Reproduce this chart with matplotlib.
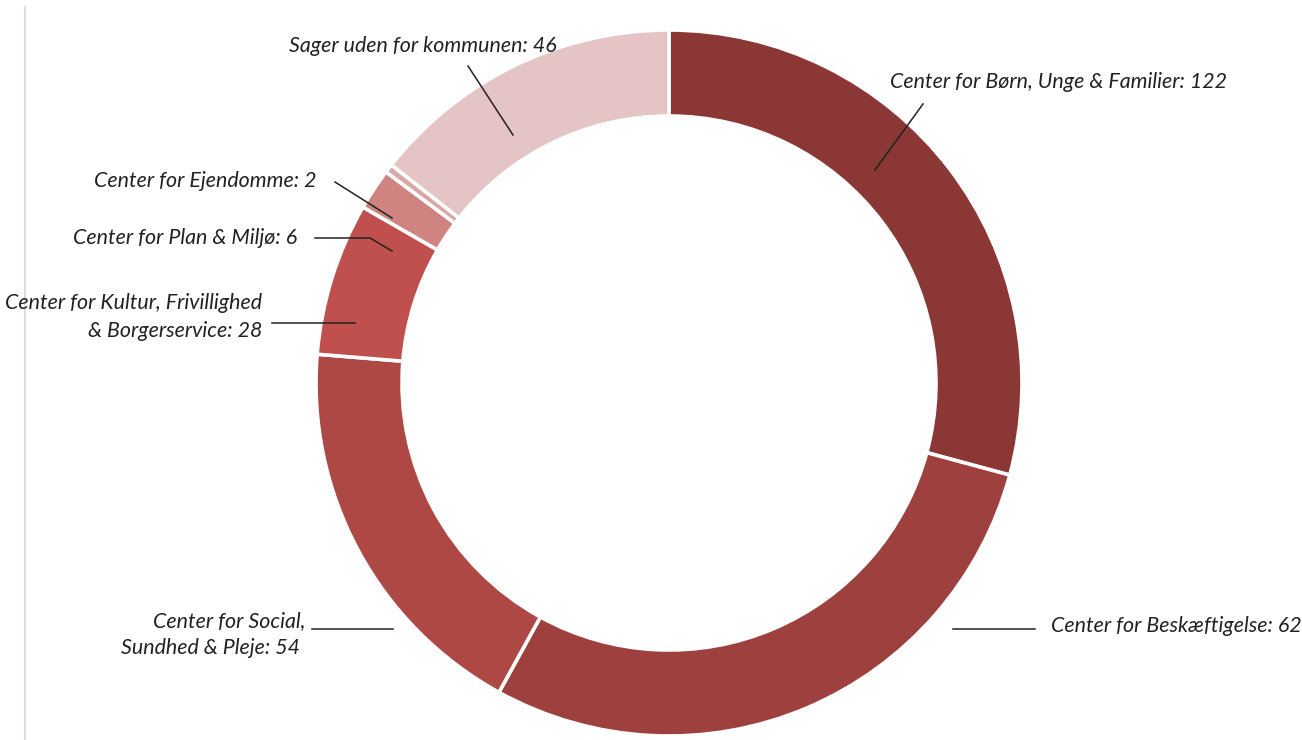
import matplotlib
matplotlib.use("Agg")
import matplotlib.pyplot as plt

# Data
categories = [
    "Center for Børn, Unge & Familier",
    "Center for Beskæftigelse",
    "Center for Social, Sundhed & Pleje",
    "Center for Kultur, Frivillighed & Borgerservice",
    "Center for Plan & Miljø",
    "Center for Ejendomme",
    "Sager uden for kommunen",
]
label_counts = [122, 62, 54, 28, 6, 2, 46]
# slice shares as drawn in the reference (percent of ring)
slice_share = [29.2, 28.8, 18.3, 7.0, 1.9, 0.4, 14.4]
colors = ["#8a3735", "#9e413e", "#ad4845", "#c0504d", "#cf8481", "#d9a7a6", "#e4c4c5"]

W, H = 1302, 740
fig = plt.figure(figsize=(W / 100, H / 100), dpi=100)
ax = fig.add_axes([0, 0, 1, 1])

def Y(y):
    return H - y

cx, cy, R, r_in = 669, 383, 353, 267
ax.pie(slice_share, colors=colors, startangle=90, counterclock=False,
       center=(cx, Y(cy)), radius=R, frame=True,
       wedgeprops=dict(width=R - r_in, edgecolor="white", linewidth=2.6))
ax.set_xlim(0, W)
ax.set_ylim(0, H)
ax.set_aspect("equal")
ax.axis("off")

# left grey rule
ax.plot([25, 25], [Y(7), Y(740)], color="#dddddd", lw=1.5, zorder=0)

font = dict(family=["Lato", "DejaVu Sans"], style="italic", fontsize=15.4, color="#222222")
lc = "#222222"
lw = 1.1

def line(pts):
    xs = [p[0] for p in pts]
    ys = [Y(p[1]) for p in pts]
    ax.plot(xs, ys, color=lc, lw=lw, zorder=5)

def lab(i):
    return f"{label_counts[i]}"

# Børn
ax.text(890, Y(82), f"Center for Børn, Unge & Familier: {lab(0)}", ha="left", va="center", **font)
line([(923, 104), (875, 170)])
# Beskæftigelse
ax.text(1051, Y(626), f"Center for Beskæftigelse: {lab(1)}", ha="left", va="center", **font)
line([(953, 629), (1035, 629)])
# Social
ax.text(305, Y(621), "Center for Social,", ha="right", va="center", **font)
ax.text(300, Y(648), f"Sundhed & Pleje: {lab(2)}", ha="right", va="center", **font)
line([(312, 629), (393, 629)])
# Kultur
ax.text(262, Y(303), "Center for Kultur, Frivillighed", ha="right", va="center", **font)
ax.text(262, Y(331), f"& Borgerservice: {lab(3)}", ha="right", va="center", **font)
line([(272, 323), (355, 323)])
# Plan
ax.text(297, Y(238), f"Center for Plan & Miljø: {lab(4)}", ha="right", va="center", **font)
line([(315, 238), (370, 238), (392, 251)])
# Ejendomme
ax.text(317, Y(181), f"Center for Ejendomme: {lab(5)}", ha="right", va="center", **font)
line([(335, 182), (392, 218)])
# Sager
ax.text(557, Y(46), f"Sager uden for kommunen: {lab(6)}", ha="right", va="center", **font)
line([(468, 66), (513, 135)])

fig.savefig("out.png", dpi=100, facecolor="white")
